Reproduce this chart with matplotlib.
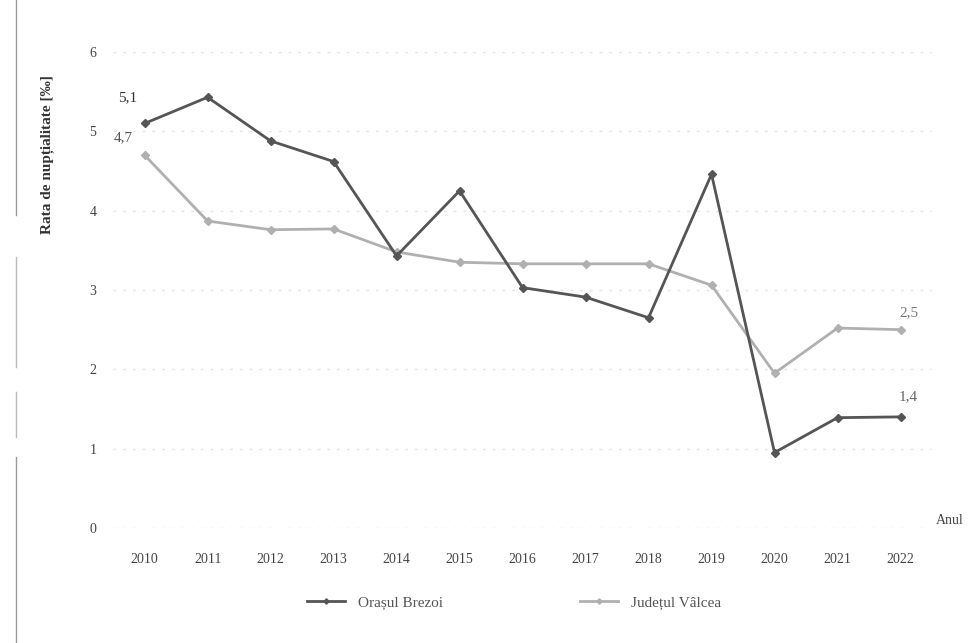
import matplotlib.pyplot as plt
from matplotlib.lines import Line2D

# data
years = [2010, 2011, 2012, 2013, 2014, 2015, 2016, 2017, 2018, 2019, 2020, 2021, 2022]
brezoi = [5.1, 5.43, 4.88, 4.62, 3.43, 4.25, 3.03, 2.91, 2.65, 4.46, 0.95, 1.39, 1.4]
valcea = [4.7, 3.87, 3.76, 3.77, 3.48, 3.35, 3.33, 3.33, 3.33, 3.06, 1.95, 2.52, 2.5]
yticks = [0, 1, 2, 3, 4, 5, 6]

serif = ['Liberation Serif', 'DejaVu Serif']
dark = '#555555'
light = '#b0b0b0'

fig = plt.figure(figsize=(9.79, 6.43), dpi=100)
ax = fig.add_axes([0.1155, 0.179, 0.8365, 0.740])

ax.plot(years, brezoi, color=dark, lw=2, marker='D', ms=4.5, label='Orașul Brezoi', zorder=3)
ax.plot(years, valcea, color=light, lw=2, marker='D', ms=4.5, label='Județul Vâlcea', zorder=2)

ax.set_xlim(2009.5, 2022.5)
ax.set_ylim(0, 6)
ax.set_xticks(years)
ax.set_xticklabels([str(y) for y in years], family=serif, fontsize=10, color='#444444')
ax.set_yticks(yticks)
ax.set_yticklabels([str(v) for v in yticks], family=serif, fontsize=10, color='#444444')
ax.tick_params(length=0, axis='x', pad=18)
ax.tick_params(length=0, axis='y', pad=12)
for s in ax.spines.values():
    s.set_visible(False)
ax.yaxis.grid(True, color='#e4e4e4', lw=1, ls=(0, (2, 5)))
ax.set_axisbelow(True)

ax.set_ylabel('Rata de nupțialitate [‰]', family=serif, fontsize=11, fontweight='bold',
              color='#333333')
ax.yaxis.set_label_coords(-0.072, 0.784)
ax.text(1.005, 0.015, 'Anul', transform=ax.transAxes, family=serif, fontsize=10,
        color='#444444', ha='left', va='center')

# value labels at the ends
ax.annotate('5,1', (years[0], brezoi[0]), xytext=(-19, 16), textcoords='offset points',
            family=serif, fontsize=11, color='#333333')
ax.annotate('4,7', (years[0], valcea[0]), xytext=(-22, 10), textcoords='offset points',
            family=serif, fontsize=11, color='#555555')
ax.annotate('2,5', (years[-1], valcea[-1]), xytext=(-1, 10), textcoords='offset points',
            family=serif, fontsize=11, color='#777777')
ax.annotate('1,4', (years[-1], brezoi[-1]), xytext=(-1, 12), textcoords='offset points',
            family=serif, fontsize=11, color='#666666')

leg = fig.legend(loc='lower center', bbox_to_anchor=(0.525, 0.03), ncol=2, frameon=False,
                 prop={'family': serif, 'size': 11}, columnspacing=9, handlelength=2.5,
                 markerscale=0.6)
for t in leg.get_texts():
    t.set_color('#555555')

# scan border line on the left
for y0, y1, c in [(0.665, 1.0, '#999999'), (0.43, 0.60, '#bbbbbb'),
                  (0.32, 0.39, '#bbbbbb'), (0.0, 0.29, '#999999')]:
    fig.add_artist(Line2D([0.016, 0.016], [y0, y1], color=c, lw=1))

fig.savefig('out.png', dpi=100)
